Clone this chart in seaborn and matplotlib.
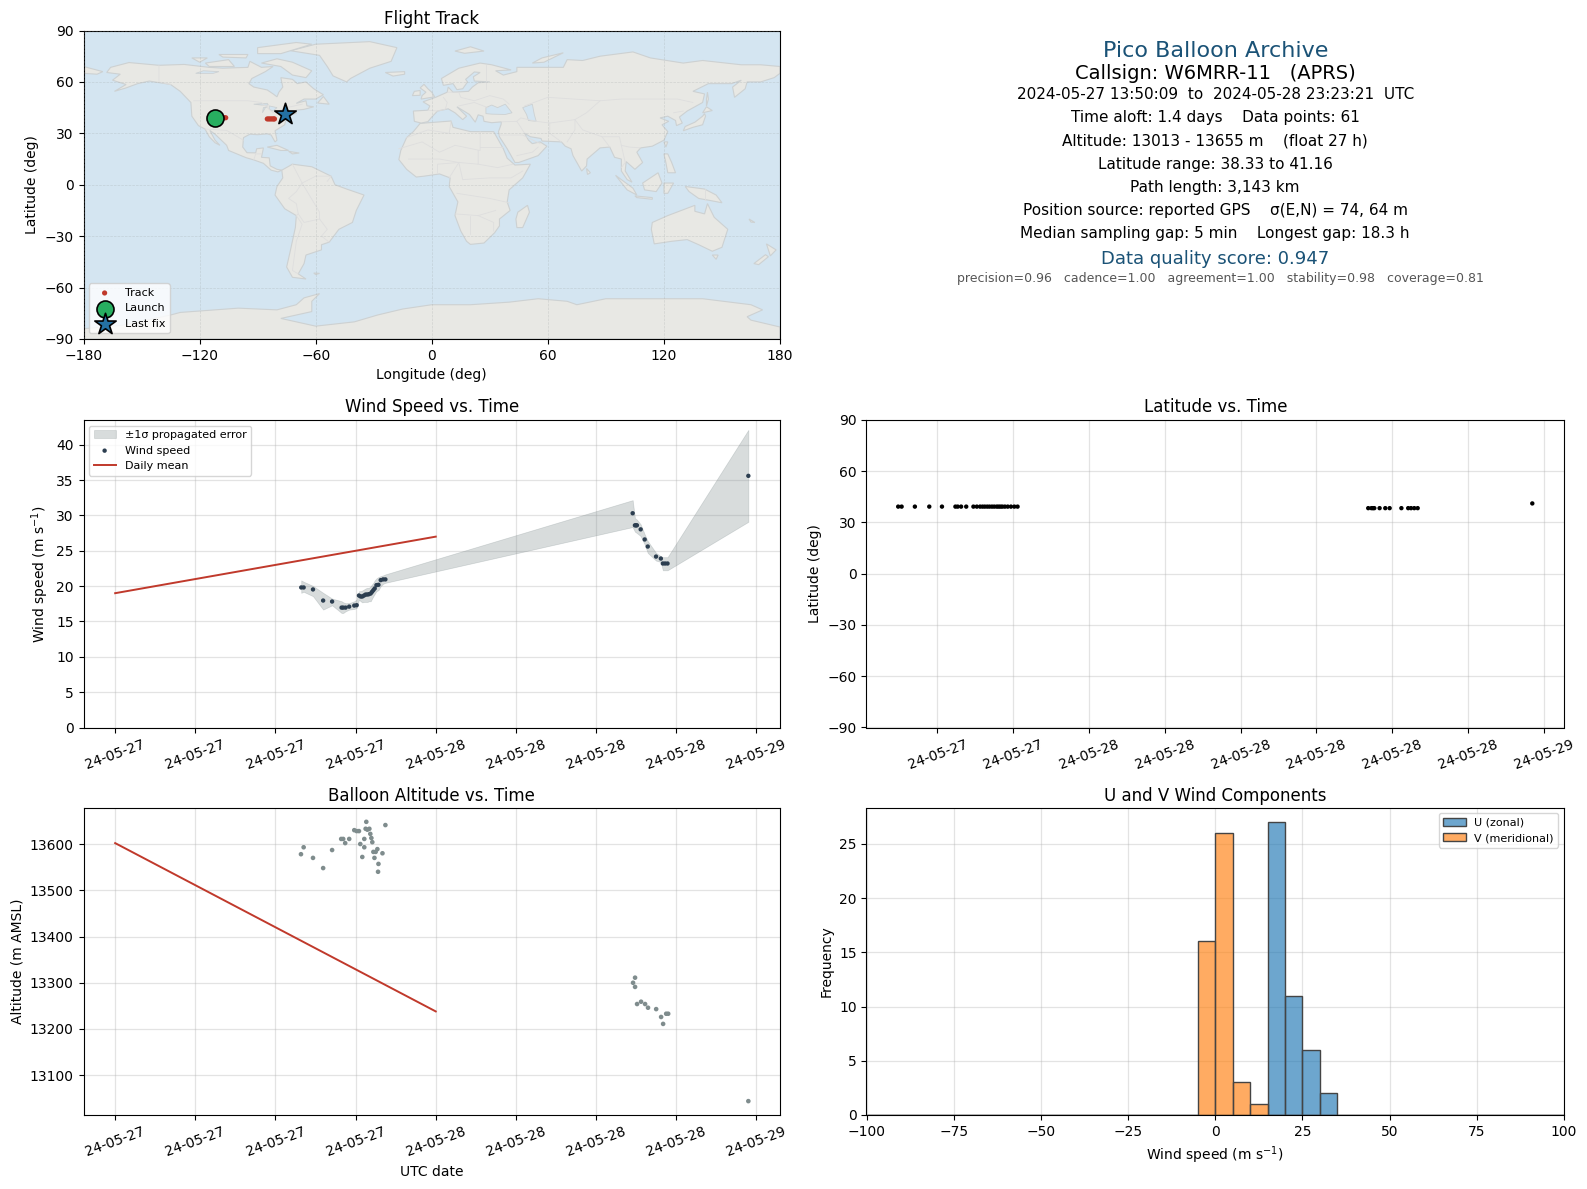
import numpy as np
import pandas as pd
import matplotlib
matplotlib.use("Agg")
import matplotlib.pyplot as plt
import matplotlib.dates as mdates
import seaborn as sns

# ------------------------------
# Flight data (hours after 2024-05-27 00:00 UTC)
# ------------------------------
wind_hours = [13.93, 14.11, 14.81, 15.57, 16.24, 16.95, 17.07, 17.25, 17.52, 17.90, 18.08, 18.25, 18.38, 18.50,
              18.63, 18.75, 18.88, 19.00, 19.13, 19.23, 19.33, 19.43, 19.56, 19.71, 19.88, 20.06, 20.23,
              38.74, 38.91, 38.99, 39.06, 39.34, 39.64, 39.87, 40.49, 40.85, 41.00, 41.17, 41.35, 47.40]
wind_speed = [19.81, 19.81, 19.53, 17.96, 17.82, 16.96, 16.96, 16.96, 17.10, 17.25, 17.30, 18.67, 18.53, 18.53,
              18.67, 18.81, 18.81, 18.86, 18.96, 19.19, 19.43, 19.67, 20.14, 20.19, 20.85, 20.95, 20.95,
              30.31, 28.60, 28.60, 28.60, 28.03, 26.60, 25.60, 24.18, 23.90, 23.20, 23.20, 23.20, 35.60]
wind_upper = [20.81, 20.62, 20.03, 19.05, 18.24, 17.86, 17.71, 17.58, 17.60, 17.86, 18.10, 19.29, 19.29, 19.38,
              19.53, 19.67, 19.76, 19.76, 20.00, 20.24, 20.47, 20.81, 21.09, 21.28, 21.42, 21.52, 21.66,
              32.16, 29.60, 29.50, 29.40, 28.74, 27.32, 26.37, 24.70, 24.23, 24.09, 24.09, 24.09, 42.10]
wind_lower = [19.05, 19.20, 18.58, 16.68, 17.29, 16.20, 16.20, 16.44, 16.68, 16.77, 16.91, 18.10, 17.86, 17.70,
              17.76, 17.76, 17.76, 17.86, 17.86, 18.24, 18.58, 18.90, 19.29, 19.43, 20.00, 20.33, 20.47,
              28.36, 27.70, 27.60, 27.50, 27.08, 25.90, 24.70, 23.61, 23.42, 22.24, 22.24, 22.24, 29.10]
latitude = [39.3] * 27 + [38.4] * 12 + [41.16]

alt_hours = [14.11, 13.91, 14.81, 15.57, 16.24, 16.92, 17.07, 17.22, 17.52, 17.90, 18.08, 18.25, 18.35, 18.50,
             18.65, 18.65, 18.80, 18.75, 18.88, 19.03, 19.10, 19.18, 19.25, 19.33, 19.50, 19.63, 19.41, 19.71,
             19.68, 20.01, 20.23,
             38.92, 38.77, 38.92, 39.07, 39.37, 39.67, 39.89, 40.50, 40.87, 41.02, 41.25, 41.40, 47.40]
alt_m = [13593, 13578, 13570, 13548, 13587, 13611, 13611, 13602, 13611, 13630, 13628, 13628, 13600, 13572,
         13611, 13593, 13648, 13633, 13631, 13633, 13622, 13613, 13604, 13583, 13583, 13589, 13570, 13557,
         13540, 13580, 13641,
         13311, 13300, 13291, 13254, 13259, 13254, 13246, 13243, 13226, 13211, 13233, 13233, 13044]

mean_hours = [0, 24]
mean_wind = [19.0, 27.0]
mean_alt = [13602, 13238]

track_lon = [-112, -110, -108.5, -107.3, -106.5, -85, -84.2, -83.4, -82.6, -81.8, -81.3]
track_lat = [39.1, 39.1, 39.1, 39.1, 39.1, 38.4, 38.4, 38.4, 38.4, 38.4, 38.4]
launch_lon, launch_lat = -112, 39.1
last_lon, last_lat = -75.7, 41.16

hist_edges = [-100 + 5 * i for i in range(41)]
u_bins = {15: 27, 20: 11, 25: 6, 30: 2}
v_bins = {-5: 16, 0: 26, 5: 3, 10: 1}

info_lines = [
    "2024-05-27 13:50:09  to  2024-05-28 23:23:21  UTC",
    "Time aloft: 1.4 days    Data points: 61",
    "Altitude: 13013 - 13655 m    (float 27 h)",
    "Latitude range: 38.33 to 41.16",
    "Path length: 3,143 km",
    "Position source: reported GPS    σ(E,N) = 74, 64 m",
    "Median sampling gap: 5 min    Longest gap: 18.3 h",
]

# ------------------------------
# Rough coastlines (lon, lat) traced for the background map
# ------------------------------
north_america = [(-168, 65.5), (-166, 68.5), (-156.5, 71.3), (-141, 69.7), (-128, 70.2), (-115, 68.5), (-108, 68),
                 (-95, 68.5), (-94, 72), (-88, 68.5), (-82, 69), (-86, 66), (-93, 62), (-94.5, 59), (-92, 57),
                 (-85, 55.3), (-82, 53), (-80, 51.3), (-79, 54), (-77, 57), (-78, 62.5), (-72, 61.5), (-69.5, 59),
                 (-65, 60), (-61, 56), (-56, 52.5), (-60, 50), (-66, 50), (-70, 47.5), (-65, 49), (-64.5, 46),
                 (-61, 45.5), (-66, 44), (-70, 43.5), (-70, 41.7), (-74, 40.5), (-75.5, 37.5), (-76, 35),
                 (-81, 31.5), (-80, 26), (-81, 25), (-83, 29), (-85, 29.7), (-90, 29.2), (-94, 29.5), (-97.3, 27.5),
                 (-97.7, 22), (-95.5, 18.7), (-91, 18.6), (-90.5, 21), (-87, 21.5), (-88, 16), (-84, 15.7),
                 (-83.5, 11), (-80, 9), (-77.5, 8.5), (-79.5, 7.5), (-83, 8.5), (-87, 12.5), (-92, 14.5), (-96, 15.8),
                 (-105, 20), (-106, 23), (-112, 29.5), (-114.7, 31.7), (-112, 26), (-109.5, 23), (-112, 24.5),
                 (-115, 28), (-117.2, 32.5), (-120.6, 34.5), (-124, 40), (-124.5, 48), (-130, 54.5), (-135, 58.5),
                 (-146, 60.5), (-152, 59), (-158, 56.5), (-164, 54.5), (-158, 58.5), (-165, 61), (-161, 64.5)]
south_america = [(-77.5, 8.5), (-72, 12), (-62, 10.5), (-52, 5), (-50, 0), (-44, -2.5), (-35, -6), (-39, -15),
                 (-41, -22), (-48, -26), (-53, -33.5), (-57, -35), (-57, -38), (-65, -41), (-66, -46), (-69, -52),
                 (-65, -55), (-72, -54), (-75, -48), (-73, -38), (-70.5, -25), (-70, -18), (-76, -14), (-81, -6),
                 (-80, -1), (-77, 4)]
greenland = [(-73, 78.2), (-60, 82), (-32, 83.5), (-18, 80), (-21, 72), (-32, 68), (-42, 62), (-44, 60), (-51, 63.5),
             (-54, 69), (-58, 75.5)]
africa = [(-6, 35.8), (10, 37.2), (11, 33.5), (20, 31), (32, 31), (33, 29), (37, 21), (39, 15.5), (43, 11.5), (51, 12),
          (47, 4), (40, -3), (39, -10), (40.5, -15), (35, -20), (35, -24), (32.5, -28), (27, -34), (20, -34.8),
          (18, -33), (15, -27), (12, -18), (13.5, -10), (9, -1), (9.5, 4), (4, 6.3), (-4, 5), (-8, 4.5), (-13, 9),
          (-17, 14.7), (-16, 20), (-13, 27.5), (-9.5, 31)]
eurasia = [(-9, 37), (-9.5, 43), (-2, 43.5), (-1, 46), (-4.5, 48.4), (2, 51), (8, 54), (8.5, 57), (11, 54), (19, 54.5),
           (21, 57), (24, 59.5), (30, 60), (22, 60.5), (21.5, 63), (25, 65.5), (22, 65.8), (17.5, 61.5), (18.5, 60),
           (16, 56), (13, 55.5), (11, 59), (6, 58), (5, 62), (14, 68), (25, 71), (31, 70), (41, 67), (33, 66.5),
           (37, 64), (44, 66), (44, 68.5), (54, 68.5), (68, 68.5), (70, 73), (78, 72.5), (87, 75), (104, 77.5),
           (113, 74), (130, 71), (140, 72.5), (160, 70), (170, 70), (180, 69), (180, 65), (177, 62.5), (170, 60),
           (163, 60), (162, 56), (156.5, 51), (155.5, 57), (160, 61), (155, 59), (143, 59), (135, 54.5), (141, 53),
           (140, 48), (132, 43), (128, 39.5), (129.5, 36), (126.5, 34.5), (126, 37.5), (122, 40), (118, 39),
           (122.5, 37), (119, 35), (122, 31), (120, 26), (114, 22.5), (108, 21.5), (106, 19), (109, 13), (105, 9),
           (100.5, 13.5), (100, 8), (103.5, 1.5), (101, 3), (98, 8), (98, 15), (94.5, 16), (92, 22), (87, 21.5),
           (80.3, 15), (80, 11), (77.5, 8), (73, 17), (72, 21), (69, 22.5), (67, 25), (57, 25.5), (56.5, 27), (51, 28),
           (48, 30), (50, 26), (52, 24), (56, 25), (59.5, 22.5), (55, 17), (45, 13), (43, 13), (39, 21), (35, 28),
           (34.5, 31), (35.8, 35), (36, 36.7), (31, 36.2), (27, 37), (26.5, 40), (24, 40.8), (23, 38), (22.5, 36.5),
           (19.5, 41), (13, 45.5), (18, 40), (16, 38), (12, 42), (8.5, 44.3), (3, 43), (0, 39.5), (-2, 36.8),
           (-5.5, 36)]
chukotka = [(-180, 69), (-170, 66), (-173, 64.5), (-180, 65)]
australia = [(114, -22), (122, -18), (129, -15), (136, -12), (136, -15.5), (141, -17), (142.5, -11), (146, -19),
             (153, -26), (150, -36.5), (145, -38.8), (138, -35), (132, -32), (124, -33), (115, -34.5), (113.5, -26)]
antarctica = [(-180, -84), (-160, -82), (-135, -76), (-130, -74.5), (-100, -72), (-80, -73), (-70, -70), (-66, -66),
              (-58, -63.5), (-62, -68), (-62, -74), (-78, -78), (-60, -82.5), (-40, -80), (-28, -76), (-15, -72.5),
              (0, -70), (20, -70), (40, -68.5), (55, -66.5), (70, -68), (75, -70), (90, -66.5), (115, -66.5),
              (140, -66.5), (165, -70), (171, -73), (163, -77), (165, -79), (180, -83), (180, -90), (-180, -90)]
islands = [
    [(-80, 73.5), (-72, 71.5), (-62, 66.5), (-65, 62.5), (-72, 64), (-78, 69), (-88, 71)],  # Baffin
    [(-117, 71), (-105, 73), (-102, 69), (-115, 69)],
    [(-90, 80), (-70, 83), (-62, 82), (-78, 76.5), (-90, 76.5)],
    [(-124, 74), (-116, 74), (-120, 71.5)],
    [(-110, 76), (-95, 76), (-96, 74), (-108, 74.5)],
    [(-59, 47.7), (-56, 51.5), (-53, 47)],
    [(-85, 22), (-80, 23), (-74, 20), (-78, 20)],
    [(-74, 19.5), (-68.5, 18.5), (-72, 18)],
    [(-61, -51.5), (-58, -51.7), (-60, -52.4)],
    [(-24, 65.5), (-14, 66), (-14, 64.5), (-20, 63.4)],
    [(-5.5, 50), (1.5, 51.3), (0, 54), (-2, 56), (-4, 58.6), (-6, 56.5), (-3, 54), (-5, 52)],
    [(-10, 52), (-6, 52.2), (-6, 55), (-9, 54.5)],
    [(12, 78), (20, 80.5), (27, 78), (17, 76.7)],
    [(52, 71), (57, 74), (68, 77), (58, 71.5)],
    [(49.5, -12), (50.5, -16), (47, -25), (44, -25), (43.5, -20), (44.5, -16)],
    [(80, 9.5), (82, 7), (80.5, 6)],
    [(130, 31.5), (135, 33.5), (140, 35), (141.5, 40), (141, 41.5), (140, 40), (136, 36.5), (131, 34)],
    [(140, 42), (145, 43.3), (142, 45.5)],
    [(142, 46), (143, 50), (142.5, 54), (142, 50)],
    [(120, 25), (122, 25), (121, 22)],
    [(120, 18), (122, 18), (124, 13), (126, 7), (122, 7), (121, 13)],
    [(95, 5.5), (104, -2), (106, -6), (101, -3)],
    [(105, -6.5), (114, -7.5), (114, -8.5), (106, -7.5)],
    [(109, 1), (117, 7), (119, 1), (116, -4), (110, -3)],
    [(120, 1), (125, 1), (122, -5), (120, -5)],
    [(131, -1), (141, -2.5), (147, -6), (150, -10.5), (143, -9), (138, -8), (133, -4)],
    [(145, -41), (148, -41), (147, -43.5)],
    [(173, -34.5), (178, -38), (175, -41.5), (174, -38)],
    [(172.5, -40.8), (174, -42), (169, -46.6), (166.5, -46)],
    [(164, -20), (167, -22), (165, -21.8)],
]
inland_water = [
    [(28, 41.5), (28, 45), (31, 46.5), (34, 45), (38, 47), (41.5, 42), (38, 41), (31, 41.2)],
    [(47, 45), (52, 47), (53, 41), (54, 37), (50, 37.5), (49, 41)],
    [(-92, 47), (-85, 47.5), (-84.5, 46.5), (-88, 46.5)],
    [(-87.5, 42), (-86, 45), (-85, 45.5), (-87, 45)],
    [(-84, 46), (-80, 45), (-82, 43), (-84, 44)],
    [(-110, 66), (-118, 66.5), (-122, 65), (-113, 65)],
]
borders = [
    [(-141, 69.7), (-141, 60), (-135, 58.5)],
    [(-123, 49), (-95, 49), (-88, 48), (-82, 42), (-75, 45), (-67, 47)],
    [(-117.2, 32.5), (-106, 31.7), (-97.3, 26)],
    [(-92, 14.5), (-91, 18), (-88, 18)],
    [(-72, 12), (-67, 1), (-70, -4), (-74, -8), (-70, -11), (-69, -17), (-70, -18)],
    [(-60, 5), (-67, 1), (-58, -16), (-58, -20), (-54, -26), (-57, -30), (-53, -33.5)],
    [(-69, -17), (-66, -22), (-58, -20)],
    [(-70, -18), (-67, -23), (-70, -33), (-72, -50), (-69, -52)],
    [(-60, 5), (-52, 5), (-54, 2)],
    [(-13, 27.5), (-2, 32), (9, 30), (10, 37)],
    [(-17, 21), (-5, 25), (4, 19), (12, 23), (25, 20), (25, 31)],
    [(25, 22), (37, 22)],
    [(-12, 15), (4, 15), (14, 13), (24, 12), (24, 20)],
    [(24, 12), (34, 10), (42, 12)],
    [(3, 6.5), (3, 12), (14, 13), (9, 4)],
    [(14, 13), (16, 3), (30, 4), (41, 4), (47, 8)],
    [(13, -5), (30, -8), (40, -10.5)],
    [(12, -17), (24, -18), (33, -15)],
    [(20, -29), (20, -18)],
    [(24, -18), (32, -22), (32, -27)],
    [(-2, 43.5), (3, 43), (7, 44), (8, 48), (6, 51)],
    [(8, 54), (14, 54), (15, 51), (22, 49), (30, 52), (37, 50), (40, 47)],
    [(14, 46), (22, 48), (29, 45)],
    [(28, 56), (28, 70)],
    [(48, 46), (60, 51), (87, 49), (98, 50), (117, 50), (127, 50), (135, 48)],
    [(87, 49), (80, 42), (74, 38), (78, 32), (88, 28), (97, 28), (98, 23), (102, 22), (108, 21.5)],
    [(54, 37), (61, 36), (74, 38)],
    [(61, 36), (61, 30), (67, 25)],
    [(74, 38), (74, 32), (70, 25)],
    [(36, 36.7), (44, 37), (48, 30)],
    [(44, 37), (46, 39), (54, 37)],
    [(35, 29), (47, 29), (56, 24)],
    [(44, 17), (52, 19), (55, 22)],
    [(88, 28), (92, 22)],
    [(98, 23), (100, 13), (98, 10)],
    [(125, 42), (130, 43)],
    [(141, -2.5), (141, -9)],
]

# ------------------------------
# Figure layout (same pixel boxes as the reference)
# ------------------------------
W, H = 1587, 1189


def box(left, top, right, bottom):
    return [left / W, 1 - bottom / H, (right - left) / W, (bottom - top) / H]


fig = plt.figure(figsize=(W / 100, H / 100), dpi=100)
ax_map = fig.add_axes(box(83.5, 30.5, 780, 339))
ax_info = fig.add_axes(box(866.5, 30.5, 1564, 339))
ax_wind = fig.add_axes(box(83.5, 420, 780, 727.5))
ax_lat = fig.add_axes(box(866.5, 420, 1564, 727.5))
ax_alt = fig.add_axes(box(83.5, 807.5, 780, 1115))
ax_hist = fig.add_axes(box(866.5, 807.5, 1564, 1115))

RED = "#c0392b"
NAVY = "#2c3e50"
SLATE = "#7f8c8d"
BLUE_TITLE = "#1a5276"
GRID = "#b0b0b0"


def to_times(hours):
    return pd.Timestamp("2024-05-27") + pd.to_timedelta(np.array(hours), unit="h")


# ------------------------------
# Flight Track
# ------------------------------
ax_map.set_facecolor("#d4e5f1")
for shape in [north_america, south_america, greenland, africa, eurasia, chukotka, australia, antarctica] + islands:
    xs, ys = zip(*shape)
    ax_map.fill(xs, ys, facecolor="#e8e8e4", edgecolor="#cdd1d2", linewidth=0.8, zorder=1)
for shape in inland_water:
    xs, ys = zip(*shape)
    ax_map.fill(xs, ys, facecolor="#d4e5f1", edgecolor="#cdd1d2", linewidth=0.6, zorder=1.1)
for line in borders:
    xs, ys = zip(*line)
    ax_map.plot(xs, ys, color="#dedede", linewidth=0.6, zorder=1.2)

sns.scatterplot(x=track_lon, y=track_lat, ax=ax_map, s=14, color=RED, edgecolor="none", label="Track", zorder=3)
ax_map.scatter(launch_lon, launch_lat, s=150, color="#27ae60", edgecolor="black", linewidth=1.2, label="Launch", zorder=4)
ax_map.scatter(last_lon, last_lat, s=260, marker="*", color="#2471a3", edgecolor="black", linewidth=1.2,
               label="Last fix", zorder=5)
ax_map.set_xlim(-180, 180)
ax_map.set_ylim(-90, 90)
ax_map.set_xticks(range(-180, 181, 60))
ax_map.set_yticks(range(-90, 91, 30))
ax_map.grid(True, color="#9aa0a0", alpha=0.3, linestyle="--", linewidth=0.5, zorder=2)
ax_map.set_axisbelow(False)
ax_map.set_title("Flight Track", fontsize=12, pad=4.5)
ax_map.set_xlabel("Longitude (deg)")
ax_map.set_ylabel("Latitude (deg)")
ax_map.legend(loc="lower left", fontsize=8)

# ------------------------------
# Summary text
# ------------------------------
ax_info.axis("off")
ax_info.text(0.5, 0.934, "Pico Balloon Archive", fontsize=16, color=BLUE_TITLE, ha="center", va="center",
             transform=ax_info.transAxes)
ax_info.text(0.5, 0.862, "Callsign: W6MRR-11   (APRS)", fontsize=14, color="black", ha="center", va="center",
             transform=ax_info.transAxes)
for text_y, line in zip([0.793, 0.718, 0.643, 0.567, 0.492, 0.418, 0.343], info_lines):
    ax_info.text(0.5, text_y, line, fontsize=11, ha="center", va="center", transform=ax_info.transAxes)
ax_info.text(0.5, 0.26, "Data quality score: 0.947", fontsize=13, color=BLUE_TITLE, ha="center", va="center",
             transform=ax_info.transAxes)
ax_info.text(0.507, 0.197, "precision=0.96   cadence=1.00   agreement=1.00   stability=0.98   coverage=0.81",
             fontsize=9, color="#555555", ha="center", va="center", transform=ax_info.transAxes)

# ------------------------------
# Wind Speed vs. Time
# ------------------------------
wind_times = to_times(wind_hours)
ax_wind.fill_between(wind_times, wind_lower, wind_upper, color=SLATE, alpha=0.3, linewidth=0.5,
                     label="±1σ propagated error")
sns.scatterplot(x=wind_times, y=wind_speed, ax=ax_wind, s=10, color=NAVY, edgecolor="none", label="Wind speed", zorder=3)
sns.lineplot(x=to_times(mean_hours), y=mean_wind, ax=ax_wind, color=RED, linewidth=1.4, label="Daily mean")
ax_wind.set_ylim(0, 43.5)
ax_wind.set_title("Wind Speed vs. Time", fontsize=12)
ax_wind.set_xlabel("")
ax_wind.set_ylabel("Wind speed (m s$^{-1}$)")
ax_wind.legend(loc="upper left", fontsize=8)

# ------------------------------
# Latitude vs. Time
# ------------------------------
sns.scatterplot(x=wind_times, y=latitude, ax=ax_lat, s=10, color="black", edgecolor="none")
ax_lat.set_ylim(-90, 90)
ax_lat.set_yticks(range(-90, 91, 30))
ax_lat.set_title("Latitude vs. Time", fontsize=12)
ax_lat.set_xlabel("")
ax_lat.set_ylabel("Latitude (deg)")

# ------------------------------
# Balloon Altitude vs. Time
# ------------------------------
sns.scatterplot(x=to_times(alt_hours), y=alt_m, ax=ax_alt, s=11, color=SLATE, edgecolor="none")
sns.lineplot(x=to_times(mean_hours), y=mean_alt, ax=ax_alt, color=RED, linewidth=1.4)
ax_alt.set_ylim(13014, 13679)
ax_alt.set_title("Balloon Altitude vs. Time", fontsize=12, pad=4.5)
ax_alt.set_xlabel("UTC date")
ax_alt.set_ylabel("Altitude (m AMSL)")

# shared date styling
for ax, step in [(ax_wind, 6), (ax_lat, 4), (ax_alt, 6)]:
    ax.xaxis.set_major_locator(mdates.HourLocator(byhour=range(0, 24, step)))
    ax.xaxis.set_major_formatter(mdates.DateFormatter("%y-%m-%d"))
    ax.tick_params(axis="x", rotation=20)
    ax.grid(True, color=GRID, alpha=0.35, linewidth=0.9)
    ax.set_axisbelow(True)

# ------------------------------
# U and V Wind Components
# ------------------------------
bin_starts = hist_edges[:-1]
bin_mids = [b + 2.5 for b in bin_starts]
u_counts = [u_bins.get(b, 0) for b in bin_starts]
v_counts = [v_bins.get(b, 0) for b in bin_starts]
sns.histplot(x=bin_mids, weights=u_counts, bins=hist_edges, ax=ax_hist, color="#1f77b4", alpha=0.65,
             edgecolor="#444444", linewidth=1.0, label="U (zonal)")
sns.histplot(x=bin_mids, weights=v_counts, bins=hist_edges, ax=ax_hist, color="#ff7f0e", alpha=0.65,
             edgecolor="#444444", linewidth=1.0, label="V (meridional)")
ax_hist.set_xlim(-100, 100)
ax_hist.set_ylim(0, 28.35)
ax_hist.set_title("U and V Wind Components", fontsize=12, pad=4.5)
ax_hist.set_xlabel("Wind speed (m s$^{-1}$)")
ax_hist.set_ylabel("Frequency")
ax_hist.grid(True, color=GRID, alpha=0.35, linewidth=0.9)
ax_hist.set_axisbelow(True)
ax_hist.legend(loc="upper right", fontsize=8)

fig.savefig("out.png", dpi=100)
